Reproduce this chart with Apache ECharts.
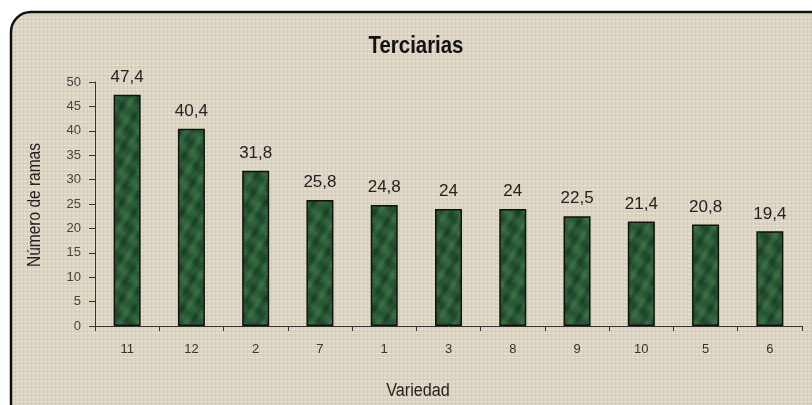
<!DOCTYPE html>
<html>
<head>
<meta charset="utf-8">
<script src="https://cdn.jsdelivr.net/npm/echarts@6/dist/echarts.min.js"></script>
<style>
html,body{margin:0;padding:0;background:#fff;}
#c{width:812px;height:405px;}
</style>
</head>
<body>
<div id="c"></div>
<script>
const categories = ['11','12','2','7','1','3','8','9','10','5','6'];
const values = [47.4, 40.4, 31.8, 25.8, 24.8, 24, 24, 22.5, 21.4, 20.8, 19.4];
const yTicks = [0,5,10,15,20,25,30,35,40,45,50];
const titleText = 'Terciarias';
const xName = 'Variedad';
const yName = 'Número de ramas';

// linen-like background texture (deterministic)
function linen(){
  const cv = document.createElement('canvas');
  cv.width = 8; cv.height = 8;
  const g = cv.getContext('2d');
  g.fillStyle = '#dbd4c2'; g.fillRect(0,0,8,8);
  g.fillStyle = 'rgba(255,253,240,0.35)';
  g.fillRect(0,1,8,1); g.fillRect(0,5,8,1);
  g.fillStyle = 'rgba(140,130,105,0.12)';
  g.fillRect(3,0,1,8); g.fillRect(7,0,1,8);
  return cv;
}
// mottled green texture for bars (deterministic, periodic sine based)
function mottle(){
  const w = 48, h = 96;
  const cv = document.createElement('canvas');
  cv.width = w; cv.height = h;
  const g = cv.getContext('2d');
  const img = g.createImageData(w, h);
  const ax = 2*Math.PI/w, ay = 2*Math.PI/h;
  for (let y = 0; y < h; y++) for (let x = 0; x < w; x++) {
    const t = 0.5 + 0.22*Math.sin(3*ax*x + 2*ay*y)
                  + 0.18*Math.sin(2*ax*x - 5*ay*y + 1.3)
                  + 0.10*Math.cos(5*ax*x + 7*ay*y + 0.7);
    const i = (y*w + x)*4;
    img.data[i]   = 24 + 36*t;
    img.data[i+1] = 62 + 52*t;
    img.data[i+2] = 36 + 36*t;
    img.data[i+3] = 255;
  }
  g.putImageData(img, 0, 0);
  return cv;
}

const chart = echarts.init(document.getElementById('c'), null, {renderer:'canvas'});
const reg = '"Liberation Sans", Arial, sans-serif';
chart.setOption({
  animation:false,
  backgroundColor:'#ffffff',
  graphic:[
    {type:'rect', z:-10, shape:{x:11, y:12, width:830, height:420, r:20},
     style:{fill:{image:linen(), repeat:'repeat'}, stroke:'#111', lineWidth:2.5}},
    {type:'text', x:416, y:46, scaleX:0.85, style:{text:titleText, font:'bold 24px '+reg, fill:'#111', align:'center', verticalAlign:'middle'}},
    {type:'text', x:418, y:391, scaleX:0.9, style:{text:xName, font:'18px '+reg, fill:'#222', align:'center', verticalAlign:'middle'}},
    {type:'text', x:35, y:205, rotation:Math.PI/2, scaleX:0.86, style:{text:yName, font:'18px '+reg, fill:'#222', align:'center', verticalAlign:'middle'}}
  ],
  grid:{left:95, right:10, top:82, bottom:79},
  xAxis:{
    type:'category', data:categories,
    axisLine:{lineStyle:{color:'#333', width:1}},
    axisTick:{show:true, length:5, lineStyle:{color:'#333'}},
    axisLabel:{color:'#333', fontSize:13, fontFamily:reg, margin:17}
  },
  yAxis:{
    type:'value', min:0, max:50, interval:5,
    axisLine:{show:true, lineStyle:{color:'#333', width:1}},
    axisTick:{show:true, length:6, lineStyle:{color:'#333'}},
    splitLine:{show:false},
    axisLabel:{color:'#444', fontSize:13, fontFamily:reg, margin:14,
      formatter:v => yTicks.includes(v) ? String(v) : ''}
  },
  series:[{
    type:'bar', data:values, barWidth:27,
    itemStyle:{
      color:{image:mottle(), repeat:'repeat'},
      borderColor:'#111', borderWidth:1.5
    },
    label:{show:true, position:'top', distance:9, color:'#222', fontSize:17, fontFamily:reg,
      formatter:p => String(p.value).replace('.', ',')}
  }]
});
</script>
</body>
</html>
